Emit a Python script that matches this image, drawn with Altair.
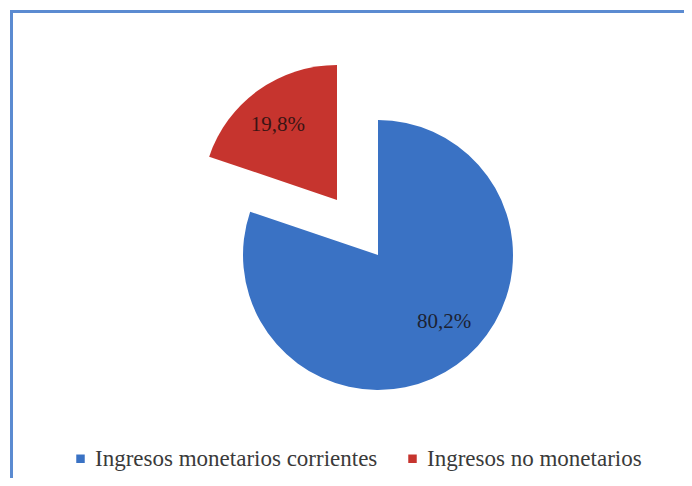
import altair as alt
import pandas as pd

categories = ["Ingresos monetarios corrientes", "Ingresos no monetarios"]
values = [80.2, 19.8]
labels = ["80,2%", "19,8%"]
colors = ["#3A72C4", "#C6342E"]

SERIF = "Liberation Serif"

df = pd.DataFrame({
    "cat": categories,
    "value": values,
    "label": labels,
    "order": list(range(len(categories))),
})

total = sum(values)
theta_scale = alt.Scale(domain=[0, total])
color_enc = alt.Color(
    "cat:N",
    scale=alt.Scale(domain=categories, range=colors),
    sort=categories,
    legend=alt.Legend(
        title=None,
        orient="none",
        legendX=61,
        legendY=439,
        direction="horizontal",
        symbolType="square",
        symbolSize=72,
        symbolStrokeWidth=0,
        labelFont=SERIF,
        labelFontSize=23,
        labelColor="#3a3a3a",
        labelLimit=0,
        columnPadding=23,
        labelOffset=3,
    ),
)

base = (
    alt.Chart(df)
    .transform_stack(
        as_=["start", "end"],
        stack="value",
        groupby=[],
        sort=[alt.SortField("order", order="ascending")],
    )
    .transform_calculate(mid="(datum.start + datum.end) / 2")
)

cx, cy = 370, 247
ex, ey = 329, 192
R = 135

arc_main = base.transform_filter(alt.datum.order == 0).mark_arc(
    x=cx, y=cy, outerRadius=R
).encode(
    theta=alt.Theta("start:Q", scale=theta_scale),
    theta2="end:Q",
    color=color_enc,
)

arc_expl = base.transform_filter(alt.datum.order == 1).mark_arc(
    x=ex, y=ey, outerRadius=R
).encode(
    theta=alt.Theta("start:Q", scale=theta_scale),
    theta2="end:Q",
    color=color_enc,
)

txt_main = base.transform_filter(alt.datum.order == 0).mark_text(
    x=cx, y=cy, radius=93, dx=12, dy=-9,
    font=SERIF, fontSize=21, color="#1c2233",
).encode(
    theta=alt.Theta("mid:Q", scale=theta_scale),
    text="label:N",
)

txt_expl = base.transform_filter(alt.datum.order == 1).mark_text(
    x=ex, y=ey, radius=93, dx=-5, dy=1,
    font=SERIF, fontSize=21, color="#3a1414",
).encode(
    theta=alt.Theta("mid:Q", scale=theta_scale),
    text="label:N",
)

border = alt.Chart(alt.Data(values=[{"a": 1}])).mark_rect(
    fillOpacity=0, stroke="#5B8BD1", strokeWidth=3
).encode(
    x=alt.value(3.5), y=alt.value(3.5), x2=alt.value(760), y2=alt.value(560)
)

chart = (
    alt.layer(border, arc_main, arc_expl, txt_main, txt_expl)
    .properties(
        width=676,
        height=470,
        padding=0,
        autosize=alt.AutoSizeParams(type="none"),
        background="white",
    )
    .configure_view(stroke=None)
    .configure_legend(labelFont=SERIF)
)

chart.save("out.html", embed_options={"renderer": "svg", "actions": False})
